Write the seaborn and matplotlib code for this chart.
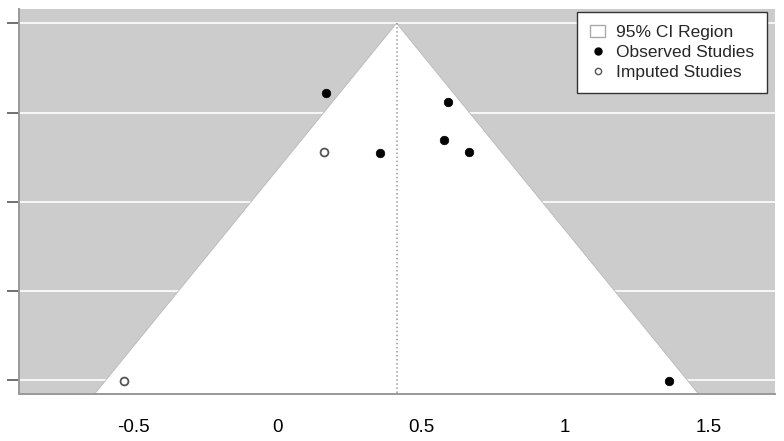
import numpy as np
import pandas as pd
import matplotlib
matplotlib.use("Agg")
import matplotlib.pyplot as plt
import seaborn as sns
from matplotlib.lines import Line2D
from matplotlib.patches import Patch

# pooled estimate and funnel size
pooled = 0.415
se_max = 0.515

# observed studies: effect, standard error
obs_effect = [0.170, 0.594, 0.578, 0.667, 0.359, 1.361]
obs_se = [0.101, 0.114, 0.168, 0.186, 0.187, 0.516]

# imputed studies (trim and fill)
imp_effect = [0.164, -0.531]
imp_se = [0.186, 0.516]

x_ticks = [-0.5, 0, 0.5, 1, 1.5]
x_labels = ["-0.5", "0", "0.5", "1", "1.5"]
# y tick labels are cropped out of the reference picture, only the ticks remain
y_ticks = [0.0, 0.129, 0.258, 0.386, 0.515]

obs = pd.DataFrame({"effect": obs_effect, "se": obs_se})
imp = pd.DataFrame({"effect": imp_effect, "se": imp_se})

sns.set_style("white")
plt.rcParams["font.family"] = ["Liberation Sans", "DejaVu Sans"]

fig = plt.figure(figsize=(7.84, 4.41), dpi=100)
ax = fig.add_axes([19 / 784, 47 / 441, 756 / 784, 385 / 441])

y_bottom = 0.535
y_top = -0.0205
ax.set_xlim(-0.896, 1.729)
ax.set_ylim(y_bottom, y_top)
ax.set_facecolor("#cccccc")

# horizontal white lines at the y ticks
for t in y_ticks:
    ax.axhline(t, color="white", lw=1.2, zorder=1)

# 95% CI region
half = 1.96 * y_bottom
ax.fill([pooled - half, pooled, pooled + half], [y_bottom, 0, y_bottom],
        facecolor="white", edgecolor="#b8b8b8", lw=0.6, zorder=2)

ax.plot([pooled, pooled], [0, y_bottom], color="#999999", ls=":", lw=1.1, zorder=3)

sns.scatterplot(data=obs, x="effect", y="se", ax=ax, color="black", s=38,
                edgecolor="black", linewidth=0.5, zorder=5, legend=False)
sns.scatterplot(data=imp, x="effect", y="se", ax=ax, facecolor="white", s=32,
                edgecolor="#555555", linewidth=1.3, zorder=5, legend=False)

ax.set_xlabel("")
ax.set_ylabel("")
ax.set_xticks(x_ticks)
ax.set_xticklabels(x_labels, fontsize=13.5)
ax.set_yticks(y_ticks)
ax.set_yticklabels([])
ax.tick_params(axis="x", length=7, width=1.3, color="#666666", pad=11, labelcolor="black")
ax.tick_params(axis="y", length=8.5, width=1.3, color="#666666", left=True)

for side in ["top", "right"]:
    ax.spines[side].set_visible(False)
for side in ["left", "bottom"]:
    ax.spines[side].set_color("#999999")
    ax.spines[side].set_linewidth(1.4)

handles = [
    Patch(facecolor="white", edgecolor="#aaaaaa", label="95% CI Region"),
    Line2D([], [], marker="o", ls="", color="black", markersize=5, label="Observed Studies"),
    Line2D([], [], marker="o", ls="", markerfacecolor="white", markeredgecolor="#555555",
           markersize=4.5, label="Imputed Studies"),
]
leg = ax.legend(handles=handles, loc="upper right", bbox_to_anchor=(0.9895, 0.993),
                fontsize=12.5, frameon=True, fancybox=False, handlelength=0.9,
                handletextpad=0.6, borderpad=0.75, labelspacing=0.28, borderaxespad=0.0)
leg.get_frame().set_edgecolor("#333333")
leg.get_frame().set_linewidth(1.0)
leg.get_frame().set_alpha(1.0)

fig.savefig("out.png", dpi=100)
